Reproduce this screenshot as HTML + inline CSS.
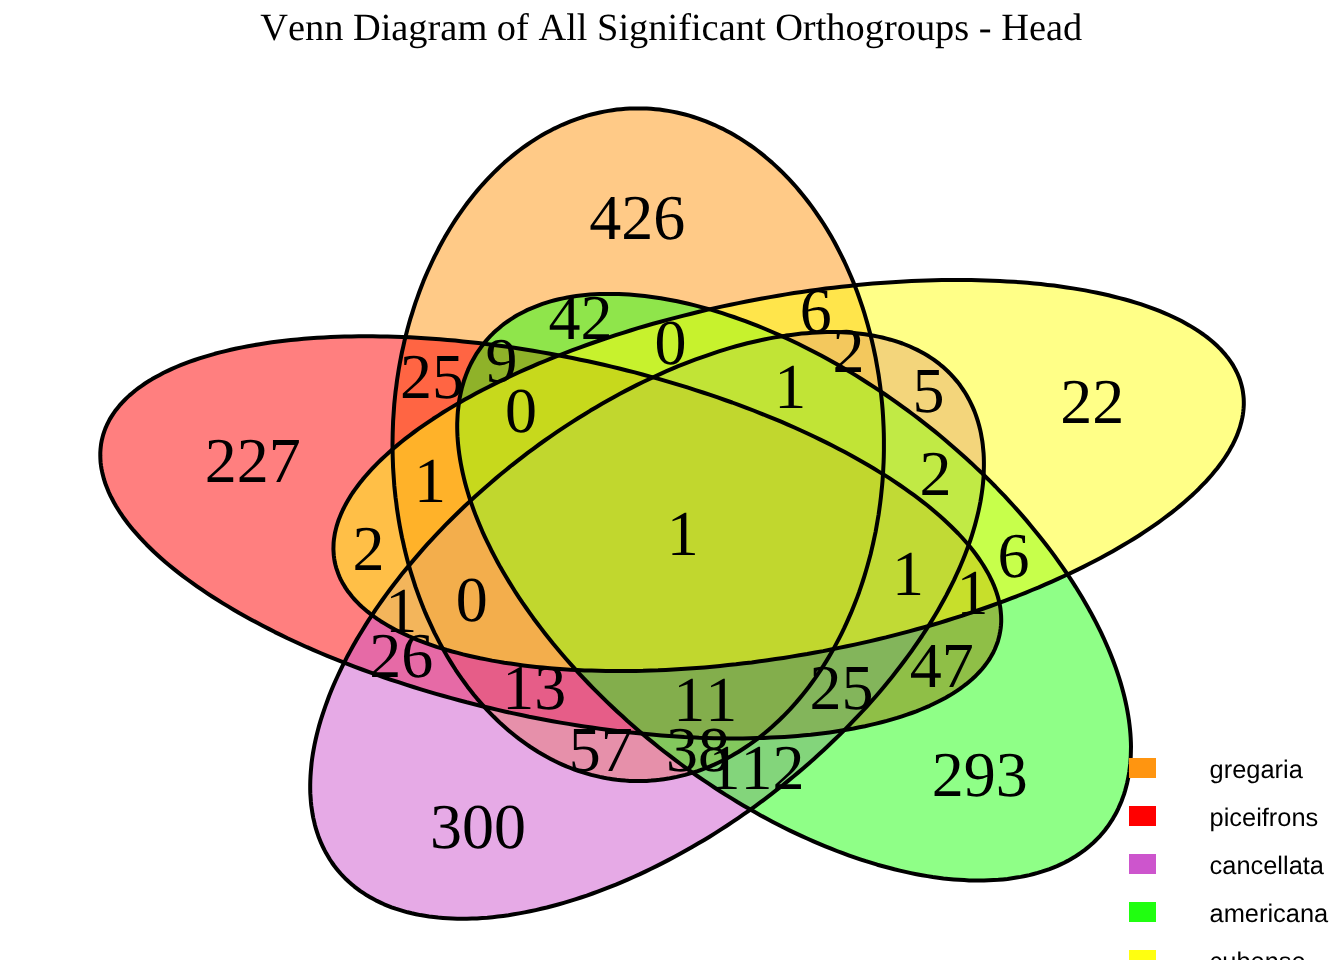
<!DOCTYPE html>
<html lang="en">
<head>
<meta charset="utf-8">
<title>Venn Diagram of All Significant Orthogroups - Head</title>
<style>
html,body{margin:0;padding:0;background:#fff;}
body{width:1344px;height:960px;overflow:hidden;}
svg{display:block;will-change:transform;}
text{font-kerning:none;text-rendering:geometricPrecision;}
.c{font-family:"Liberation Serif","Times New Roman",Times,serif;font-size:64px;text-anchor:middle;fill:#000;}
.t{font-family:"Liberation Serif","Times New Roman",Times,serif;font-size:38.4px;text-anchor:middle;fill:#000;}
.l{font-family:"Liberation Sans",Helvetica,Arial,sans-serif;font-size:25.4px;fill:#000;}
.f{stroke:none;fill-opacity:.5;}
.s{fill:none;stroke:#000;stroke-width:4.0;stroke-linejoin:round;}
</style>
</head>
<body>
<svg width="1344" height="960" viewBox="0 0 1344 960">
<rect width="1344" height="960" fill="#fff"/>

<g class="f">
<ellipse cx="638.23" cy="444.71" rx="336.35" ry="245.71" transform="rotate(90.000 638.23 444.71)" fill="#FF9510"/>
<ellipse cx="550.74" cy="537.35" rx="459.30" ry="179.94" transform="rotate(12.258 550.74 537.35)" fill="#FF0000"/>
<ellipse cx="647.06" cy="625.40" rx="394.51" ry="209.49" transform="rotate(142.106 647.06 625.40)" fill="#CD55CD"/>
<ellipse cx="794.09" cy="587.18" rx="394.51" ry="209.49" transform="rotate(37.894 794.09 587.18)" fill="#20FF10"/>
<ellipse cx="788.63" cy="475.51" rx="461.99" ry="178.89" transform="rotate(169.313 788.63 475.51)" fill="#FFFF10"/>
</g>
<g class="s">
<polygon points="883.9,444.7 883.9,438.8 883.8,433.0 883.6,427.1 883.3,421.2 883.0,415.4 882.6,409.5 882.1,403.7 881.5,397.9 880.9,392.1 880.2,386.3 879.4,380.5 878.6,374.8 877.6,369.0 876.6,363.3 875.6,357.7 874.4,352.0 873.2,346.4 871.9,340.8 870.6,335.2 869.1,329.7 867.6,324.2 866.0,318.7 864.4,313.3 862.7,307.9 860.9,302.6 859.1,297.3 857.2,292.0 855.2,286.8 853.1,281.6 851.0,276.5 848.8,271.5 846.6,266.5 844.3,261.5 841.9,256.6 839.5,251.8 837.0,247.0 834.5,242.3 831.9,237.6 829.2,233.0 826.5,228.5 823.7,224.0 820.8,219.6 817.9,215.3 815.0,211.1 812.0,206.9 808.9,202.8 805.8,198.7 802.6,194.7 799.4,190.9 796.2,187.0 792.9,183.3 789.5,179.7 786.1,176.1 782.7,172.6 779.2,169.2 775.6,165.9 772.1,162.6 768.4,159.5 764.8,156.4 761.1,153.4 757.4,150.5 753.6,147.7 749.8,145.0 745.9,142.4 742.1,139.9 738.2,137.4 734.2,135.1 730.3,132.8 726.3,130.7 722.3,128.6 718.2,126.7 714.2,124.8 710.1,123.1 706.0,121.4 701.8,119.8 697.7,118.3 693.5,117.0 689.3,115.7 685.1,114.5 680.9,113.5 676.7,112.5 672.4,111.6 668.2,110.9 663.9,110.2 659.6,109.6 655.4,109.2 651.1,108.8 646.8,108.6 642.5,108.4 638.2,108.4 633.9,108.4 629.7,108.6 625.4,108.8 621.1,109.2 616.8,109.6 612.5,110.2 608.3,110.9 604.0,111.6 599.8,112.5 595.6,113.5 591.3,114.5 587.1,115.7 583.0,117.0 578.8,118.3 574.6,119.8 570.5,121.4 566.4,123.1 562.3,124.8 558.2,126.7 554.2,128.6 550.2,130.7 546.2,132.8 542.2,135.1 538.3,137.4 534.4,139.9 530.5,142.4 526.7,145.0 522.9,147.7 519.1,150.5 515.4,153.4 511.7,156.4 508.0,159.5 504.4,162.6 500.8,165.9 497.3,169.2 493.8,172.6 490.4,176.1 487.0,179.7 483.6,183.3 480.3,187.0 477.0,190.9 473.8,194.7 470.7,198.7 467.5,202.8 464.5,206.9 461.5,211.1 458.5,215.3 455.6,219.6 452.8,224.0 450.0,228.5 447.3,233.0 444.6,237.6 442.0,242.3 439.4,247.0 437.0,251.8 434.5,256.6 432.2,261.5 429.9,266.5 427.6,271.5 425.4,276.5 423.3,281.6 421.3,286.8 419.3,292.0 417.4,297.3 415.5,302.6 413.8,307.9 412.1,313.3 410.4,318.7 408.8,324.2 407.3,329.7 405.9,335.2 404.5,340.8 403.3,346.4 402.0,352.0 400.9,357.7 399.8,363.3 398.8,369.0 397.9,374.8 397.0,380.5 396.3,386.3 395.5,392.1 394.9,397.9 394.3,403.7 393.9,409.5 393.5,415.4 393.1,421.2 392.9,427.1 392.7,433.0 392.6,438.8 392.5,444.7 392.6,450.6 392.7,456.4 392.9,462.3 393.1,468.2 393.5,474.0 393.9,479.9 394.3,485.7 394.9,491.5 395.5,497.3 396.3,503.1 397.0,508.9 397.9,514.6 398.8,520.4 399.8,526.1 400.9,531.8 402.0,537.4 403.3,543.0 404.5,548.6 405.9,554.2 407.3,559.7 408.8,565.2 410.4,570.7 412.1,576.1 413.8,581.5 415.5,586.9 417.4,592.2 419.3,597.4 421.3,602.6 423.3,607.8 425.4,612.9 427.6,617.9 429.9,622.9 432.2,627.9 434.5,632.8 437.0,637.6 439.4,642.4 442.0,647.1 444.6,651.8 447.3,656.4 450.0,660.9 452.8,665.4 455.6,669.8 458.5,674.1 461.5,678.4 464.5,682.5 467.5,686.7 470.7,690.7 473.8,694.7 477.0,698.6 480.3,702.4 483.6,706.1 487.0,709.8 490.4,713.3 493.8,716.8 497.3,720.2 500.8,723.6 504.4,726.8 508.0,729.9 511.7,733.0 515.4,736.0 519.1,738.9 522.9,741.7 526.7,744.4 530.5,747.0 534.4,749.5 538.3,752.0 542.2,754.3 546.2,756.6 550.2,758.7 554.2,760.8 558.2,762.7 562.3,764.6 566.4,766.4 570.5,768.0 574.6,769.6 578.8,771.1 583.0,772.4 587.1,773.7 591.3,774.9 595.6,775.9 599.8,776.9 604.0,777.8 608.3,778.6 612.5,779.2 616.8,779.8 621.1,780.2 625.4,780.6 629.7,780.9 633.9,781.0 638.2,781.1 642.5,781.0 646.8,780.9 651.1,780.6 655.4,780.2 659.6,779.8 663.9,779.2 668.2,778.6 672.4,777.8 676.7,776.9 680.9,775.9 685.1,774.9 689.3,773.7 693.5,772.4 697.7,771.1 701.8,769.6 706.0,768.0 710.1,766.4 714.2,764.6 718.2,762.7 722.3,760.8 726.3,758.7 730.3,756.6 734.2,754.3 738.2,752.0 742.1,749.5 745.9,747.0 749.8,744.4 753.6,741.7 757.4,738.9 761.1,736.0 764.8,733.0 768.4,729.9 772.1,726.8 775.6,723.6 779.2,720.2 782.7,716.8 786.1,713.3 789.5,709.8 792.9,706.1 796.2,702.4 799.4,698.6 802.6,694.7 805.8,690.7 808.9,686.7 812.0,682.5 815.0,678.4 817.9,674.1 820.8,669.8 823.7,665.4 826.5,660.9 829.2,656.4 831.9,651.8 834.5,647.1 837.0,642.4 839.5,637.6 841.9,632.8 844.3,627.9 846.6,622.9 848.8,617.9 851.0,612.9 853.1,607.8 855.2,602.6 857.2,597.4 859.1,592.2 860.9,586.9 862.7,581.5 864.4,576.1 866.0,570.7 867.6,565.2 869.1,559.7 870.6,554.2 871.9,548.6 873.2,543.0 874.4,537.4 875.6,531.8 876.6,526.1 877.6,520.4 878.6,514.6 879.4,508.9 880.2,503.1 880.9,497.3 881.5,491.5 882.1,485.7 882.6,479.9 883.0,474.0 883.3,468.2 883.6,462.3 883.8,456.4 883.9,450.6"/>
<polygon points="466.7,702.3 474.4,704.2 482.2,706.2 490.0,708.0 497.8,709.9 505.6,711.7 513.4,713.4 521.3,715.0 529.1,716.7 537.0,718.2 544.8,719.7 552.7,721.2 560.5,722.6 568.4,723.9 576.3,725.2 584.1,726.4 591.9,727.6 599.8,728.7 607.6,729.7 615.4,730.7 623.1,731.7 630.9,732.5 638.6,733.3 646.3,734.1 654.0,734.8 661.6,735.4 669.2,736.0 676.8,736.5 684.3,737.0 691.8,737.3 699.2,737.7 706.6,737.9 714.0,738.2 721.3,738.3 728.5,738.4 735.7,738.4 742.9,738.4 750.0,738.3 757.0,738.1 763.9,737.9 770.8,737.6 777.6,737.3 784.4,736.9 791.1,736.4 797.7,735.9 804.2,735.3 810.7,734.7 817.1,733.9 823.4,733.2 829.6,732.4 835.7,731.5 841.8,730.5 847.7,729.5 853.6,728.5 859.4,727.3 865.0,726.2 870.6,724.9 876.1,723.6 881.5,722.3 886.8,720.9 892.0,719.4 897.1,717.9 902.0,716.3 906.9,714.7 911.7,713.0 916.3,711.3 920.8,709.5 925.3,707.7 929.6,705.8 933.8,703.8 937.9,701.8 941.8,699.8 945.7,697.7 949.4,695.6 953.0,693.4 956.5,691.1 959.8,688.9 963.0,686.5 966.1,684.2 969.1,681.7 972.0,679.3 974.7,676.8 977.3,674.2 979.7,671.6 982.1,669.0 984.3,666.3 986.3,663.6 988.3,660.9 990.1,658.1 991.7,655.2 993.3,652.4 994.7,649.5 995.9,646.6 997.1,643.6 998.1,640.6 998.9,637.6 999.6,634.5 1000.2,631.4 1000.7,628.3 1001.0,625.2 1001.2,622.0 1001.2,618.8 1001.1,615.6 1000.8,612.3 1000.5,609.1 1000.0,605.8 999.3,602.5 998.5,599.1 997.6,595.8 996.5,592.4 995.3,589.0 994.0,585.6 992.5,582.2 990.9,578.8 989.2,575.4 987.3,571.9 985.3,568.5 983.2,565.0 980.9,561.5 978.5,558.0 976.0,554.5 973.4,551.0 970.6,547.5 967.7,544.0 964.6,540.5 961.5,537.0 958.2,533.5 954.7,530.0 951.2,526.5 947.5,523.0 943.8,519.5 939.9,516.0 935.8,512.5 931.7,509.0 927.5,505.5 923.1,502.1 918.6,498.6 914.0,495.2 909.3,491.8 904.5,488.4 899.6,485.0 894.6,481.6 889.4,478.2 884.2,474.9 878.8,471.6 873.4,468.2 867.9,465.0 862.2,461.7 856.5,458.5 850.7,455.2 844.8,452.1 838.8,448.9 832.7,445.8 826.5,442.6 820.3,439.6 813.9,436.5 807.5,433.5 801.0,430.5 794.4,427.5 787.8,424.6 781.1,421.7 774.3,418.9 767.4,416.1 760.5,413.3 753.5,410.5 746.5,407.8 739.3,405.2 732.2,402.5 724.9,400.0 717.7,397.4 710.3,394.9 703.0,392.5 695.5,390.1 688.1,387.7 680.6,385.4 673.0,383.1 665.4,380.9 657.8,378.7 650.2,376.6 642.5,374.5 634.8,372.4 627.0,370.5 619.3,368.5 611.5,366.6 603.7,364.8 595.9,363.0 588.1,361.3 580.2,359.7 572.4,358.0 564.5,356.5 556.7,355.0 548.8,353.5 540.9,352.1 533.1,350.8 525.2,349.5 517.4,348.3 509.5,347.1 501.7,346.0 493.9,345.0 486.1,344.0 478.3,343.0 470.6,342.2 462.9,341.4 455.2,340.6 447.5,339.9 439.9,339.3 432.3,338.7 424.7,338.2 417.2,337.7 409.7,337.3 402.2,337.0 394.8,336.7 387.5,336.5 380.2,336.4 372.9,336.3 365.7,336.3 358.6,336.3 351.5,336.4 344.5,336.6 337.5,336.8 330.7,337.1 323.8,337.4 317.1,337.8 310.4,338.3 303.8,338.8 297.2,339.4 290.8,340.0 284.4,340.7 278.1,341.5 271.9,342.3 265.7,343.2 259.7,344.2 253.7,345.2 247.9,346.2 242.1,347.4 236.4,348.5 230.8,349.8 225.4,351.1 220.0,352.4 214.7,353.8 209.5,355.3 204.4,356.8 199.4,358.4 194.6,360.0 189.8,361.7 185.2,363.4 180.6,365.2 176.2,367.0 171.9,368.9 167.7,370.9 163.6,372.8 159.7,374.9 155.8,377.0 152.1,379.1 148.5,381.3 145.0,383.5 141.7,385.8 138.4,388.2 135.3,390.5 132.4,393.0 129.5,395.4 126.8,397.9 124.2,400.5 121.7,403.1 119.4,405.7 117.2,408.4 115.1,411.1 113.2,413.8 111.4,416.6 109.7,419.4 108.2,422.3 106.8,425.2 105.5,428.1 104.4,431.1 103.4,434.1 102.6,437.1 101.8,440.2 101.2,443.3 100.8,446.4 100.5,449.5 100.3,452.7 100.3,455.9 100.4,459.1 100.6,462.4 101.0,465.6 101.5,468.9 102.2,472.2 103.0,475.5 103.9,478.9 104.9,482.3 106.1,485.6 107.5,489.0 108.9,492.5 110.5,495.9 112.3,499.3 114.1,502.8 116.1,506.2 118.3,509.7 120.5,513.2 122.9,516.7 125.5,520.2 128.1,523.7 130.9,527.2 133.8,530.7 136.9,534.2 140.0,537.7 143.3,541.2 146.7,544.7 150.3,548.2 153.9,551.7 157.7,555.2 161.6,558.7 165.6,562.2 169.8,565.7 174.0,569.1 178.4,572.6 182.9,576.1 187.5,579.5 192.2,582.9 197.0,586.3 201.9,589.7 206.9,593.1 212.1,596.5 217.3,599.8 222.6,603.1 228.1,606.4 233.6,609.7 239.2,613.0 245.0,616.2 250.8,619.4 256.7,622.6 262.7,625.8 268.8,628.9 274.9,632.1 281.2,635.1 287.5,638.2 294.0,641.2 300.5,644.2 307.0,647.2 313.7,650.1 320.4,653.0 327.2,655.8 334.1,658.6 341.0,661.4 348.0,664.2 355.0,666.9 362.1,669.5 369.3,672.1 376.5,674.7 383.8,677.3 391.1,679.8 398.5,682.2 405.9,684.6 413.4,687.0 420.9,689.3 428.4,691.6 436.0,693.8 443.7,696.0 451.3,698.1 459.0,700.2"/>
<polygon points="445.8,524.7 441.1,529.6 436.5,534.4 431.9,539.3 427.4,544.2 423.0,549.1 418.7,554.1 414.4,559.1 410.2,564.1 406.0,569.1 401.9,574.1 397.9,579.2 394.0,584.2 390.2,589.3 386.4,594.4 382.7,599.5 379.1,604.6 375.6,609.7 372.2,614.8 368.8,619.9 365.5,625.1 362.4,630.2 359.3,635.3 356.2,640.4 353.3,645.5 350.5,650.6 347.7,655.7 345.1,660.8 342.5,665.9 340.1,670.9 337.7,676.0 335.4,681.0 333.2,686.0 331.1,691.0 329.1,696.0 327.3,701.0 325.5,705.9 323.8,710.8 322.2,715.7 320.6,720.6 319.2,725.4 317.9,730.2 316.7,735.0 315.6,739.7 314.6,744.4 313.7,749.1 312.9,753.7 312.2,758.3 311.6,762.8 311.2,767.3 310.8,771.8 310.5,776.2 310.3,780.5 310.2,784.9 310.2,789.1 310.3,793.4 310.6,797.5 310.9,801.7 311.3,805.7 311.9,809.7 312.5,813.7 313.2,817.6 314.1,821.4 315.0,825.2 316.0,828.9 317.2,832.6 318.4,836.2 319.8,839.7 321.2,843.2 322.8,846.6 324.4,849.9 326.1,853.1 328.0,856.3 329.9,859.5 331.9,862.5 334.0,865.5 336.3,868.4 338.6,871.2 341.0,874.0 343.5,876.7 346.1,879.3 348.8,881.8 351.6,884.2 354.4,886.6 357.4,888.9 360.4,891.1 363.6,893.2 366.8,895.3 370.1,897.2 373.5,899.1 376.9,900.9 380.5,902.6 384.1,904.3 387.8,905.8 391.6,907.3 395.5,908.7 399.5,909.9 403.5,911.1 407.6,912.3 411.8,913.3 416.0,914.2 420.3,915.1 424.7,915.8 429.1,916.5 433.7,917.1 438.2,917.6 442.9,918.0 447.6,918.3 452.4,918.5 457.2,918.7 462.1,918.7 467.0,918.7 472.0,918.6 477.1,918.4 482.2,918.0 487.3,917.7 492.5,917.2 497.8,916.6 503.1,915.9 508.4,915.2 513.8,914.3 519.2,913.4 524.6,912.4 530.1,911.3 535.7,910.1 541.2,908.8 546.8,907.5 552.5,906.0 558.1,904.5 563.8,902.9 569.5,901.2 575.2,899.4 581.0,897.5 586.8,895.6 592.6,893.5 598.4,891.4 604.2,889.2 610.0,886.9 615.9,884.6 621.8,882.1 627.6,879.6 633.5,877.0 639.4,874.4 645.2,871.6 651.1,868.8 657.0,865.9 662.9,862.9 668.7,859.9 674.6,856.8 680.5,853.6 686.3,850.3 692.1,847.0 698.0,843.6 703.8,840.2 709.6,836.7 715.3,833.1 721.1,829.4 726.8,825.7 732.5,821.9 738.2,818.1 743.8,814.2 749.4,810.3 755.0,806.3 760.6,802.2 766.1,798.1 771.6,793.9 777.0,789.7 782.4,785.5 787.8,781.1 793.1,776.8 798.4,772.4 803.6,767.9 808.8,763.4 813.9,758.9 819.0,754.3 824.0,749.7 829.0,745.0 833.9,740.3 838.8,735.6 843.6,730.9 848.3,726.1 853.0,721.2 857.6,716.4 862.2,711.5 866.7,706.6 871.1,701.7 875.5,696.7 879.8,691.7 884.0,686.7 888.1,681.7 892.2,676.7 896.2,671.6 900.1,666.6 903.9,661.5 907.7,656.4 911.4,651.3 915.0,646.2 918.5,641.1 922.0,636.0 925.3,630.9 928.6,625.8 931.8,620.6 934.9,615.5 937.9,610.4 940.8,605.3 943.6,600.2 946.4,595.1 949.0,590.0 951.6,584.9 954.1,579.9 956.4,574.8 958.7,569.8 960.9,564.8 963.0,559.8 965.0,554.8 966.9,549.8 968.7,544.9 970.4,540.0 972.0,535.1 973.5,530.2 974.9,525.4 976.2,520.6 977.4,515.8 978.5,511.1 979.5,506.4 980.4,501.8 981.2,497.1 981.9,492.5 982.5,488.0 983.0,483.5 983.4,479.0 983.7,474.6 983.8,470.3 983.9,465.9 983.9,461.7 983.8,457.4 983.6,453.3 983.2,449.2 982.8,445.1 982.3,441.1 981.6,437.1 980.9,433.2 980.1,429.4 979.1,425.6 978.1,421.9 976.9,418.2 975.7,414.6 974.4,411.1 972.9,407.6 971.4,404.3 969.7,400.9 968.0,397.7 966.2,394.5 964.2,391.3 962.2,388.3 960.1,385.3 957.9,382.4 955.5,379.6 953.1,376.8 950.6,374.1 948.0,371.5 945.3,369.0 942.6,366.6 939.7,364.2 936.7,361.9 933.7,359.7 930.6,357.6 927.4,355.5 924.0,353.6 920.7,351.7 917.2,349.9 913.6,348.2 910.0,346.5 906.3,345.0 902.5,343.5 898.6,342.2 894.7,340.9 890.6,339.7 886.5,338.6 882.4,337.5 878.1,336.6 873.8,335.7 869.4,335.0 865.0,334.3 860.5,333.7 855.9,333.2 851.2,332.8 846.5,332.5 841.8,332.3 836.9,332.1 832.1,332.1 827.1,332.1 822.1,332.2 817.1,332.5 812.0,332.8 806.8,333.2 801.6,333.6 796.4,334.2 791.1,334.9 785.7,335.6 780.4,336.5 774.9,337.4 769.5,338.4 764.0,339.5 758.5,340.7 752.9,342.0 747.3,343.3 741.7,344.8 736.0,346.3 730.3,347.9 724.6,349.6 718.9,351.4 713.1,353.3 707.4,355.3 701.6,357.3 695.7,359.4 689.9,361.6 684.1,363.9 678.2,366.2 672.4,368.7 666.5,371.2 660.6,373.8 654.8,376.5 648.9,379.2 643.0,382.0 637.1,384.9 631.3,387.9 625.4,390.9 619.5,394.0 613.7,397.2 607.8,400.5 602.0,403.8 596.2,407.2 590.4,410.6 584.6,414.2 578.8,417.7 573.1,421.4 567.3,425.1 561.6,428.9 556.0,432.7 550.3,436.6 544.7,440.5 539.1,444.5 533.6,448.6 528.0,452.7 522.6,456.9 517.1,461.1 511.7,465.3 506.3,469.7 501.0,474.0 495.8,478.4 490.5,482.9 485.3,487.4 480.2,491.9 475.1,496.5 470.1,501.1 465.1,505.8 460.2,510.5 455.3,515.2 450.5,520.0"/>
<polygon points="995.4,486.5 990.6,481.7 985.8,477.0 981.0,472.2 976.0,467.6 971.1,462.9 966.0,458.3 960.9,453.7 955.8,449.2 950.6,444.7 945.4,440.2 940.1,435.8 934.8,431.4 929.4,427.1 924.0,422.9 918.6,418.6 913.1,414.5 907.6,410.4 902.0,406.3 896.5,402.3 890.8,398.4 885.2,394.5 879.5,390.6 873.8,386.9 868.1,383.2 862.3,379.5 856.6,375.9 850.8,372.4 845.0,369.0 839.2,365.6 833.3,362.3 827.5,359.0 821.6,355.8 815.8,352.7 809.9,349.7 804.0,346.7 798.1,343.8 792.3,341.0 786.4,338.2 780.5,335.6 774.6,333.0 768.8,330.5 762.9,328.0 757.1,325.7 751.2,323.4 745.4,321.2 739.6,319.1 733.8,317.0 728.0,315.1 722.3,313.2 716.5,311.4 710.8,309.7 705.1,308.1 699.5,306.6 693.9,305.1 688.3,303.8 682.7,302.5 677.2,301.3 671.7,300.2 666.2,299.2 660.8,298.2 655.4,297.4 650.1,296.7 644.8,296.0 639.5,295.4 634.3,294.9 629.2,294.5 624.1,294.2 619.0,294.0 614.0,293.9 609.1,293.9 604.2,293.9 599.4,294.0 594.6,294.3 589.9,294.6 585.3,295.0 580.7,295.5 576.2,296.1 571.7,296.8 567.3,297.5 563.0,298.4 558.8,299.3 554.6,300.3 550.5,301.4 546.5,302.6 542.5,303.9 538.7,305.3 534.9,306.8 531.2,308.3 527.5,309.9 524.0,311.7 520.5,313.5 517.1,315.3 513.8,317.3 510.6,319.4 507.5,321.5 504.4,323.7 501.4,326.0 498.6,328.4 495.8,330.8 493.1,333.3 490.5,335.9 488.0,338.6 485.6,341.4 483.3,344.2 481.1,347.1 479.0,350.1 476.9,353.1 475.0,356.3 473.2,359.4 471.4,362.7 469.8,366.0 468.2,369.4 466.8,372.9 465.5,376.4 464.2,380.0 463.1,383.7 462.0,387.4 461.1,391.2 460.3,395.0 459.5,398.9 458.9,402.9 458.4,406.9 457.9,410.9 457.6,415.1 457.4,419.2 457.2,423.4 457.2,427.7 457.3,432.0 457.5,436.4 457.8,440.8 458.2,445.3 458.7,449.8 459.3,454.3 460.0,458.9 460.8,463.5 461.7,468.2 462.7,472.9 463.8,477.6 465.0,482.4 466.3,487.2 467.7,492.0 469.2,496.9 470.8,501.8 472.5,506.7 474.3,511.6 476.2,516.6 478.2,521.5 480.3,526.5 482.4,531.6 484.7,536.6 487.1,541.6 489.6,546.7 492.1,551.8 494.8,556.9 497.5,562.0 500.3,567.1 503.3,572.2 506.3,577.3 509.4,582.4 512.6,587.5 515.8,592.7 519.2,597.8 522.6,602.9 526.2,608.0 529.8,613.1 533.4,618.2 537.2,623.3 541.1,628.4 545.0,633.4 549.0,638.5 553.0,643.5 557.2,648.5 561.4,653.5 565.7,658.5 570.0,663.4 574.5,668.4 579.0,673.3 583.5,678.2 588.1,683.0 592.8,687.8 597.6,692.6 602.4,697.4 607.2,702.1 612.1,706.8 617.1,711.5 622.2,716.1 627.2,720.7 632.4,725.2 637.5,729.7 642.8,734.2 648.1,738.6 653.4,742.9 658.7,747.2 664.1,751.5 669.6,755.7 675.1,759.9 680.6,764.0 686.1,768.1 691.7,772.1 697.3,776.0 703.0,779.9 708.7,783.7 714.4,787.5 720.1,791.2 725.8,794.9 731.6,798.4 737.4,802.0 743.2,805.4 749.0,808.8 754.8,812.1 760.7,815.4 766.5,818.6 772.4,821.7 778.3,824.7 784.2,827.7 790.0,830.6 795.9,833.4 801.8,836.1 807.7,838.8 813.5,841.4 819.4,843.9 825.3,846.3 831.1,848.7 836.9,851.0 842.8,853.2 848.6,855.3 854.4,857.3 860.2,859.3 865.9,861.2 871.6,862.9 877.3,864.7 883.0,866.3 888.7,867.8 894.3,869.3 899.9,870.6 905.5,871.9 911.0,873.1 916.5,874.2 922.0,875.2 927.4,876.1 932.8,877.0 938.1,877.7 943.4,878.4 948.6,878.9 953.8,879.4 959.0,879.8 964.1,880.1 969.1,880.4 974.1,880.5 979.1,880.5 984.0,880.5 988.8,880.3 993.6,880.1 998.3,879.8 1002.9,879.4 1007.5,878.9 1012.0,878.3 1016.5,877.6 1020.8,876.9 1025.2,876.0 1029.4,875.1 1033.6,874.0 1037.7,872.9 1041.7,871.7 1045.6,870.4 1049.5,869.1 1053.3,867.6 1057.0,866.1 1060.7,864.4 1064.2,862.7 1067.7,860.9 1071.1,859.0 1074.4,857.1 1077.6,855.0 1080.7,852.9 1083.8,850.7 1086.7,848.4 1089.6,846.0 1092.4,843.6 1095.1,841.0 1097.7,838.4 1100.2,835.8 1102.6,833.0 1104.9,830.2 1107.1,827.3 1109.2,824.3 1111.3,821.2 1113.2,818.1 1115.0,814.9 1116.8,811.7 1118.4,808.3 1119.9,804.9 1121.4,801.5 1122.7,797.9 1124.0,794.4 1125.1,790.7 1126.1,787.0 1127.1,783.2 1127.9,779.4 1128.7,775.5 1129.3,771.5 1129.8,767.5 1130.3,763.4 1130.6,759.3 1130.8,755.1 1130.9,750.9 1131.0,746.7 1130.9,742.3 1130.7,738.0 1130.4,733.5 1130.0,729.1 1129.5,724.6 1128.9,720.0 1128.2,715.5 1127.4,710.8 1126.5,706.2 1125.5,701.5 1124.4,696.7 1123.2,692.0 1121.9,687.2 1120.5,682.4 1119.0,677.5 1117.4,672.6 1115.7,667.7 1113.9,662.8 1112.0,657.8 1110.0,652.8 1107.9,647.8 1105.7,642.8 1103.5,637.8 1101.1,632.7 1098.6,627.7 1096.1,622.6 1093.4,617.5 1090.7,612.4 1087.8,607.3 1084.9,602.2 1081.9,597.1 1078.8,592.0 1075.6,586.8 1072.3,581.7 1069.0,576.6 1065.5,571.5 1062.0,566.4 1058.4,561.3 1054.7,556.2 1051.0,551.1 1047.1,546.0 1043.2,541.0 1039.2,535.9 1035.1,530.9 1031.0,525.9 1026.8,520.9 1022.5,515.9 1018.1,510.9 1013.7,506.0 1009.2,501.1 1004.7,496.2 1000.0,491.4"/>
<polygon points="862.5,642.9 870.3,641.1 878.1,639.2 885.9,637.4 893.7,635.4 901.4,633.4 909.1,631.4 916.7,629.3 924.3,627.2 931.9,625.0 939.4,622.8 946.9,620.5 954.3,618.2 961.7,615.8 969.0,613.4 976.2,611.0 983.5,608.5 990.6,606.0 997.7,603.4 1004.7,600.8 1011.7,598.2 1018.6,595.5 1025.4,592.8 1032.1,590.0 1038.8,587.3 1045.4,584.4 1051.9,581.6 1058.4,578.7 1064.7,575.8 1071.0,572.9 1077.2,569.9 1083.3,566.9 1089.3,563.8 1095.2,560.8 1101.0,557.7 1106.8,554.6 1112.4,551.5 1117.9,548.3 1123.4,545.1 1128.7,541.9 1133.9,538.7 1139.1,535.5 1144.1,532.2 1149.0,528.9 1153.8,525.6 1158.5,522.3 1163.0,519.0 1167.5,515.7 1171.9,512.3 1176.1,509.0 1180.2,505.6 1184.2,502.2 1188.1,498.8 1191.8,495.5 1195.4,492.1 1198.9,488.7 1202.3,485.2 1205.6,481.8 1208.7,478.4 1211.7,475.0 1214.5,471.6 1217.3,468.2 1219.9,464.8 1222.4,461.4 1224.7,458.0 1226.9,454.6 1229.0,451.2 1230.9,447.8 1232.8,444.4 1234.4,441.1 1236.0,437.7 1237.4,434.4 1238.6,431.0 1239.8,427.7 1240.7,424.4 1241.6,421.1 1242.3,417.9 1242.9,414.6 1243.3,411.4 1243.6,408.2 1243.8,405.0 1243.8,401.8 1243.7,398.6 1243.4,395.5 1243.0,392.4 1242.5,389.3 1241.8,386.3 1241.0,383.3 1240.1,380.3 1239.0,377.3 1237.8,374.4 1236.4,371.5 1234.9,368.6 1233.3,365.7 1231.5,362.9 1229.6,360.2 1227.6,357.4 1225.4,354.7 1223.1,352.1 1220.7,349.4 1218.1,346.8 1215.4,344.3 1212.6,341.8 1209.6,339.3 1206.6,336.9 1203.4,334.5 1200.0,332.2 1196.6,329.9 1193.0,327.6 1189.3,325.4 1185.4,323.2 1181.5,321.1 1177.4,319.0 1173.2,317.0 1168.9,315.0 1164.5,313.1 1159.9,311.2 1155.3,309.4 1150.5,307.6 1145.6,305.9 1140.7,304.2 1135.6,302.6 1130.4,301.0 1125.1,299.5 1119.7,298.1 1114.2,296.7 1108.6,295.3 1102.9,294.0 1097.1,292.8 1091.2,291.6 1085.2,290.4 1079.1,289.4 1073.0,288.4 1066.7,287.4 1060.4,286.5 1054.0,285.6 1047.5,284.9 1040.9,284.1 1034.3,283.5 1027.5,282.8 1020.7,282.3 1013.9,281.8 1006.9,281.4 999.9,281.0 992.9,280.7 985.7,280.4 978.5,280.2 971.3,280.1 964.0,280.0 956.6,280.0 949.2,280.0 941.8,280.1 934.3,280.2 926.7,280.5 919.1,280.7 911.5,281.1 903.8,281.5 896.1,281.9 888.4,282.4 880.6,283.0 872.8,283.6 865.0,284.3 857.2,285.1 849.3,285.9 841.4,286.7 833.5,287.7 825.6,288.6 817.7,289.7 809.7,290.8 801.8,291.9 793.9,293.1 785.9,294.4 778.0,295.7 770.0,297.1 762.1,298.5 754.2,300.0 746.3,301.5 738.4,303.1 730.5,304.7 722.6,306.4 714.7,308.1 706.9,309.9 699.1,311.8 691.3,313.7 683.6,315.6 675.9,317.6 668.2,319.6 660.6,321.7 653.0,323.8 645.4,326.0 637.9,328.2 630.4,330.5 623.0,332.8 615.6,335.2 608.3,337.6 601.0,340.0 593.8,342.5 586.7,345.0 579.6,347.6 572.5,350.2 565.6,352.8 558.7,355.5 551.9,358.2 545.1,361.0 538.4,363.7 531.8,366.6 525.3,369.4 518.9,372.3 512.5,375.2 506.3,378.2 500.1,381.1 494.0,384.1 488.0,387.2 482.0,390.2 476.2,393.3 470.5,396.4 464.8,399.6 459.3,402.7 453.9,405.9 448.5,409.1 443.3,412.3 438.2,415.6 433.2,418.8 428.3,422.1 423.5,425.4 418.8,428.7 414.2,432.0 409.8,435.3 405.4,438.7 401.2,442.0 397.1,445.4 393.1,448.8 389.2,452.2 385.5,455.6 381.8,459.0 378.3,462.4 374.9,465.8 371.7,469.2 368.6,472.6 365.6,476.0 362.7,479.4 360.0,482.8 357.4,486.2 354.9,489.6 352.5,493.0 350.3,496.4 348.3,499.8 346.3,503.2 344.5,506.6 342.8,510.0 341.3,513.3 339.9,516.7 338.6,520.0 337.5,523.3 336.5,526.6 335.7,529.9 334.9,533.2 334.4,536.4 333.9,539.6 333.6,542.9 333.5,546.1 333.4,549.2 333.6,552.4 333.8,555.5 334.2,558.6 334.7,561.7 335.4,564.7 336.2,567.8 337.2,570.7 338.3,573.7 339.5,576.7 340.8,579.6 342.3,582.4 344.0,585.3 345.7,588.1 347.6,590.9 349.7,593.6 351.8,596.3 354.1,599.0 356.6,601.6 359.1,604.2 361.8,606.7 364.7,609.2 367.6,611.7 370.7,614.1 373.9,616.5 377.2,618.9 380.7,621.2 384.3,623.4 388.0,625.6 391.8,627.8 395.8,629.9 399.9,632.0 404.1,634.0 408.4,636.0 412.8,637.9 417.3,639.8 422.0,641.6 426.7,643.4 431.6,645.1 436.6,646.8 441.7,648.4 446.9,650.0 452.2,651.5 457.6,652.9 463.1,654.4 468.7,655.7 474.4,657.0 480.2,658.3 486.1,659.4 492.1,660.6 498.1,661.6 504.3,662.7 510.5,663.6 516.9,664.5 523.3,665.4 529.8,666.2 536.3,666.9 543.0,667.6 549.7,668.2 556.5,668.7 563.4,669.2 570.3,669.7 577.3,670.0 584.4,670.4 591.5,670.6 598.7,670.8 606.0,671.0 613.3,671.0 620.6,671.1 628.0,671.0 635.5,670.9 643.0,670.8 650.6,670.5 658.1,670.3 665.8,669.9 673.4,669.5 681.1,669.1 688.9,668.6 696.6,668.0 704.4,667.4 712.3,666.7 720.1,665.9 728.0,665.1 735.9,664.3 743.8,663.3 751.7,662.4 759.6,661.3 767.5,660.2 775.5,659.1 783.4,657.9 791.3,656.6 799.3,655.3 807.2,654.0 815.2,652.5 823.1,651.1 831.0,649.5 838.9,647.9 846.8,646.3 854.7,644.6"/>
</g>
<g class="c">
<text x="637.2" y="239.0">426</text>
<text x="252.8" y="481.9">227</text>
<text x="478.0" y="847.5">300</text>
<text x="979.7" y="796.3">293</text>
<text x="1092.3" y="423.4">22</text>
<text x="928.5" y="412.4">5</text>
<text x="815.8" y="332.0">6</text>
<text x="580.4" y="339.3">42</text>
<text x="431.9" y="397.8">25</text>
<text x="368.4" y="569.7">2</text>
<text x="401.2" y="677.1">26</text>
<text x="600.8" y="770.7">57</text>
<text x="756.5" y="789.0">112</text>
<text x="941.8" y="686.6">47</text>
<text x="1013.4" y="577.0">6</text>
<text x="935.6" y="495.1">2</text>
<text x="848.6" y="372.2">2</text>
<text x="670.5" y="364.2">0</text>
<text x="501.5" y="381.7">9</text>
<text x="429.9" y="501.7">1</text>
<text x="401.2" y="631.8">1</text>
<text x="534.3" y="708.6">13</text>
<text x="698.1" y="770.7">38</text>
<text x="841.4" y="708.6">25</text>
<text x="972.5" y="613.5">1</text>
<text x="908.0" y="595.2">1</text>
<text x="790.2" y="408.1">1</text>
<text x="521.0" y="432.2">0</text>
<text x="471.8" y="620.8">0</text>
<text x="705.3" y="721.0">11</text>
<text x="682.8" y="555.0">1</text>
</g>
<text class="t" x="671.2" y="39.9">Venn Diagram of All Significant Orthogroups - Head</text>
<g>
<rect x="1129.00" y="758.00" width="27.00" height="20.00" fill="#FF9510"/>
<rect x="1129.00" y="806.00" width="27.00" height="20.00" fill="#FF0000"/>
<rect x="1129.00" y="854.00" width="27.00" height="20.00" fill="#CD55CD"/>
<rect x="1129.00" y="902.00" width="27.00" height="20.00" fill="#20FF10"/>
<rect x="1129.00" y="950.00" width="27.00" height="20.00" fill="#FFFF10"/>
</g>
<g class="l">
<text x="1209.60" y="778.15">gregaria</text>
<text x="1209.60" y="826.15">piceifrons</text>
<text x="1209.60" y="874.15">cancellata</text>
<text x="1209.60" y="922.15">americana</text>
<text x="1209.60" y="970.15">cubense</text>
</g>
</svg>
</body>
</html>
